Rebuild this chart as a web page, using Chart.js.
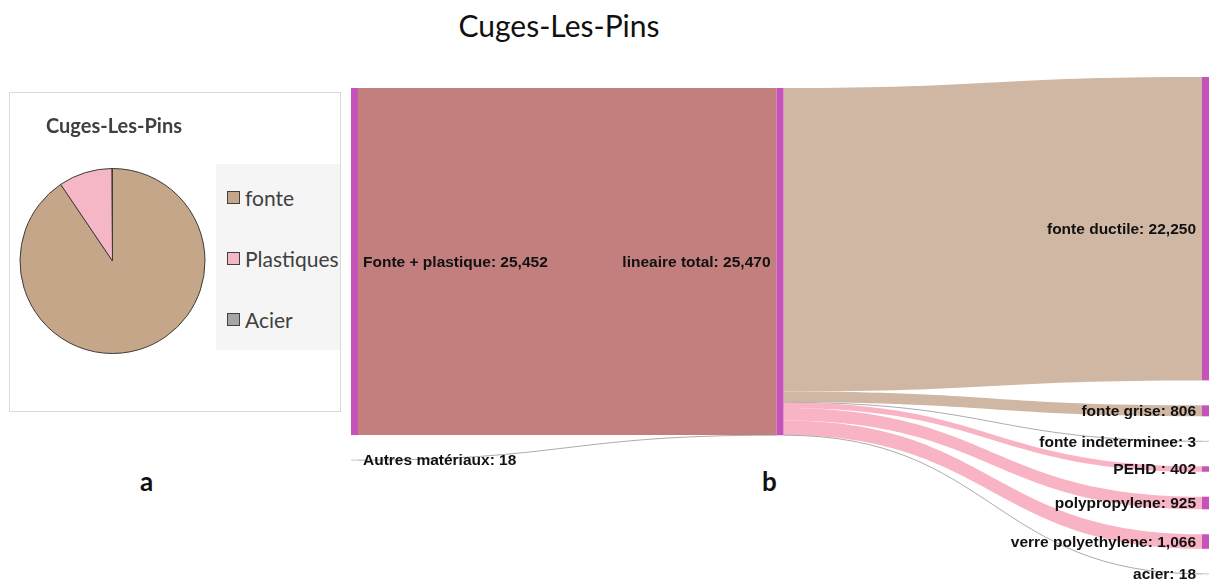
<!DOCTYPE html>
<html>
<head>
<meta charset="utf-8">
<script src="https://cdn.jsdelivr.net/npm/chart.js@4.4.1/dist/chart.umd.min.js"></script>
<style>
  body { margin: 0; width: 1216px; height: 580px; background: #fff; position: relative; overflow: hidden; font-family: Lato, sans-serif; }
  #title { position: absolute; left: 359px; width: 400px; top: 3px; text-align: center; font-size: 30px; line-height: 44px; color: #111; }
  #panel { position: absolute; left: 9px; top: 92px; width: 330px; height: 318px; border: 1px solid #d9d9d9; }
  #pie { position: absolute; left: 0; top: 0; }
  #panelTitle { position: absolute; left: 36px; top: 19px; font-size: 20px; line-height: 26px; font-weight: bold; color: #404040; }
  #legend { position: absolute; left: 206px; top: 71px; width: 124px; height: 186px; background: #f5f5f5; box-sizing: border-box; padding-top: 3px; }
  .item { height: 61px; display: flex; align-items: center; padding-left: 11px; font-size: 21px; color: #404040; }
  .box { width: 11px; height: 11px; border: 1px solid #404040; margin-right: 5px; }
  .tag { position: absolute; font-size: 26px; font-weight: bold; color: #111; line-height: 30px; }
  #sankey { position: absolute; left: 340px; top: 60px; }
</style>
</head>
<body>
<div id="title">Cuges-Les-Pins</div>
<div id="panel">
  <canvas id="pie" width="330" height="318"></canvas>
  <div id="panelTitle">Cuges-Les-Pins</div>
  <div id="legend"></div>
</div>
<div class="tag" style="left:140px; top:466px;">a</div>
<div class="tag" style="left:762px; top:466px;">b</div>
<canvas id="sankey" width="876" height="520"></canvas>
<script>
// pie (a)
const pieLabels = ["fonte", "Plastiques", "Acier"]
const pieValues = [23059, 2393, 18]
const pieColors = ["#c5a688", "#f5b6c6", "#a5a5a5"]

// sankey (b)
const nodeLabels = ["Fonte + plastique", "Autres matériaux", "lineaire total", "fonte ductile", "fonte grise",
  "fonte indeterminee", "PEHD ", "polypropylene", "verre polyethylene", "acier"]
const nodeColumn = [0, 0, 1, 2, 2, 2, 2, 2, 2, 2]
const linkSource = [0, 1, 2, 2, 2, 2, 2, 2, 2]
const linkTarget = [2, 2, 3, 4, 5, 6, 7, 8, 9]
const linkValues = [25452, 18, 22250, 806, 3, 402, 925, 1066, 18]
const linkColors = ["#c37f7d", "#c9a9c2", "#cfb7a4", "#cfb7a4", "#c9a9c2", "#f8b4c4", "#f8b4c4", "#f8b4c4", "#c9a9c2"]

const pieChart = new Chart(document.getElementById("pie"), {
  type: "pie",
  data: {
    labels: pieLabels,
    datasets: [{ data: pieValues, backgroundColor: pieColors, borderColor: "#3b3b3b", borderWidth: 1 }]
  },
  options: {
    responsive: false,
    animation: false,
    layout: { padding: { left: 9.5, right: 134.5, top: 75, bottom: 57 } },
    plugins: { legend: { display: false }, tooltip: { enabled: false } }
  }
})

// html legend from the chart's own legend items
const legendEl = document.getElementById("legend")
pieChart.options.plugins.legend.labels.generateLabels(pieChart).forEach(item => {
  const row = document.createElement("div")
  row.className = "item"
  const box = document.createElement("span")
  box.className = "box"
  box.style.background = item.fillStyle
  row.appendChild(box)
  row.appendChild(document.createTextNode(item.text))
  legendEl.appendChild(row)
})

function nodeValues() {
  return nodeLabels.map((_, i) => {
    let inV = 0, outV = 0
    linkValues.forEach((v, k) => {
      if (linkSource[k] === i) outV += v
      if (linkTarget[k] === i) inV += v
    })
    return Math.max(inV, outV)
  })
}

const sankeyPlugin = {
  id: "sankey",
  afterDraw(chart, args, opts) {
    const { ctx } = chart
    const x = chart.scales.x, y = chart.scales.y
    const vals = nodeValues()
    const colPos = opts.colShift.slice()
    const top = [], bot = []
    nodeLabels.forEach((_, i) => {
      const c = nodeColumn[i]
      top[i] = colPos[c]
      bot[i] = colPos[c] + vals[i]
      colPos[c] = bot[i] + opts.nodePad
    })

    const outCur = top.slice(), inCur = top.slice()
    linkValues.forEach((v, k) => {
      const s = linkSource[k], t = linkTarget[k]
      const x0 = x.getPixelForValue(nodeColumn[s]) + opts.nodeWidth
      const x1 = x.getPixelForValue(nodeColumn[t])
      const a0 = y.getPixelForValue(outCur[s]), a1 = y.getPixelForValue(outCur[s] + v)
      const b0 = y.getPixelForValue(inCur[t]), b1 = y.getPixelForValue(inCur[t] + v)
      outCur[s] += v
      inCur[t] += v
      const xm = (x0 + x1) / 2
      ctx.save()
      if (a1 - a0 < 1) {
        const am = (a0 + a1) / 2, bm = (b0 + b1) / 2
        ctx.beginPath()
        ctx.moveTo(x0, am)
        ctx.bezierCurveTo(xm, am, xm, bm, x1, bm)
        ctx.strokeStyle = "rgba(150,150,150,0.8)"
        ctx.lineWidth = 1
        ctx.stroke()
      } else {
        ctx.beginPath()
        ctx.moveTo(x0, a0)
        ctx.bezierCurveTo(xm, a0, xm, b0, x1, b0)
        ctx.lineTo(x1, b1)
        ctx.bezierCurveTo(xm, b1, xm, a1, x0, a1)
        ctx.closePath()
        ctx.fillStyle = linkColors[k]
        ctx.fill()
      }
      ctx.restore()
    })

    ctx.save()
    ctx.font = "bold 15.5px 'Liberation Sans', Arial, sans-serif"
    ctx.textBaseline = "middle"
    nodeLabels.forEach((label, i) => {
      const nx = x.getPixelForValue(nodeColumn[i])
      const ny0 = y.getPixelForValue(top[i]), ny1 = y.getPixelForValue(bot[i])
      const h = ny1 - ny0
      if (h < 1) {
        ctx.fillStyle = "rgba(190,120,180,0.45)"
        ctx.fillRect(nx, ny0 - 0.5, opts.nodeWidth, 1.2)
      } else {
        ctx.fillStyle = opts.nodeColor
        ctx.fillRect(nx, ny0, opts.nodeWidth, h)
      }
      const text = label + ": " + vals[i].toLocaleString("en-US")
      const cy = (ny0 + ny1) / 2 + 1
      ctx.fillStyle = "#111"
      if (nodeColumn[i] === 0) {
        ctx.textAlign = "left"
        ctx.fillText(text, nx + opts.nodeWidth + 5, cy)
      } else {
        ctx.textAlign = "right"
        ctx.fillText(text, nx - 6, cy)
      }
    })
    ctx.restore()
  }
}

const rightTotal = linkValues.slice(2).reduce((a, b) => a + b, 0)
const nodePad = 1830

new Chart(document.getElementById("sankey"), {
  type: "scatter",
  data: { datasets: [] },
  options: {
    responsive: false,
    animation: false,
    layout: { padding: { left: 11, right: 14, top: 17, bottom: 6 } },
    scales: {
      x: { type: "linear", min: 0, max: 2, display: false },
      y: { type: "linear", min: 0, max: rightTotal + 6 * nodePad, reverse: true, display: false }
    },
    plugins: {
      legend: { display: false },
      tooltip: { enabled: false },
      sankey: { nodeWidth: 7, nodePad: nodePad, colShift: [807, 807, 0], nodeColor: "#c553ba" }
    }
  },
  plugins: [sankeyPlugin]
})
</script>
</body>
</html>
